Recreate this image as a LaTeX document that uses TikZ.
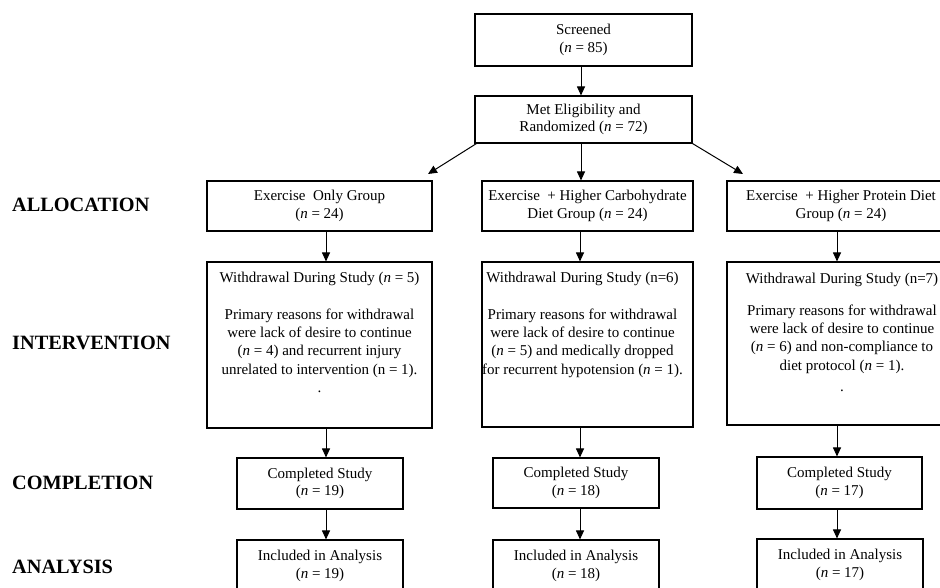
\documentclass[tikz,border=0pt]{standalone}
\usepackage{fontspec}
\setmainfont{Liberation Serif}
\usetikzlibrary{arrows.meta}
\newcommand{\smallfs}{\fontsize{15}{17.5}\selectfont}
\newcommand{\wdfs}{\fontsize{15}{18.3}\selectfont}
\newcommand{\labfs}{\fontsize{20.3}{22}\selectfont\bfseries}
\begin{document}
\begin{tikzpicture}[x=1pt,y=-1pt,
  box/.style={draw=black, line width=1.1pt, inner sep=0pt, align=center, font=\smallfs},
  wtext/.style={inner sep=0pt, align=center, font=\wdfs, anchor=north},
  lab/.style={inner sep=0pt, anchor=west, font=\labfs},
  arr/.style={line width=1pt, -{Triangle[length=9pt,width=8pt]}}]
\useasboundingbox (0,0) rectangle (940,587);
\clip (0,0) rectangle (940,587);
\fill[white] (0,0) rectangle (940,587);

% top boxes
\node[box, minimum width=217pt, minimum height=52pt] (scr) at (583.5,40) {Screened\\(\textit{n} = 85)};
\node[box, minimum width=217pt, minimum height=47pt] (rand) at (583.5,119.5) {Met Eligibility and\\Randomized (\textit{n} = 72)};

% allocation
\node[box, minimum width=225pt, minimum height=50pt] (a1) at (319.5,206) {Exercise\ \ Only Group\\(\textit{n} = 24)};
\node[box, minimum width=211pt, minimum height=50pt] (a2) at (587.5,206) {Exercise\ \ + Higher Carbohydrate\\Diet Group (\textit{n} = 24)};
\node[box, minimum width=228pt, minimum height=50pt] (a3) at (841,206) {Exercise\ \ + Higher Protein Diet\\Group (\textit{n} = 24)};

% withdrawal boxes
\node[box, minimum width=225pt, minimum height=166pt] (w1) at (319.5,345) {};
\node[box, minimum width=211pt, minimum height=165pt] (w2) at (587.5,344.5) {};
\node[box, minimum width=228pt, minimum height=163pt] (w3) at (841,343.5) {};

\node[wtext] (t1) at ([yshift=-10.5pt]w1.north) {Withdrawal During Study (\textit{n} = 5)\\[18.3pt]
Primary reasons for withdrawal\\
were lack of desire to continue\\
(\textit{n} = 4) and recurrent injury\\
unrelated to intervention (n = 1).\\
.};
\node[wtext] (t2) at ([yshift=-10.5pt,xshift=-5pt]w2.north) {Withdrawal During Study (n=6)\\[18.3pt]
Primary reasons for withdrawal\\
were lack of desire to continue\\
(\textit{n} = 5) and medically dropped\\
for recurrent hypotension (\textit{n} = 1).};
\node[wtext] (t3) at ([yshift=-11pt,xshift=1pt]w3.north) {Withdrawal During Study (n=7)\\[14pt]
Primary reasons for withdrawal\\
were lack of desire to continue\\
(\textit{n} = 6) and non-compliance to\\
diet protocol (\textit{n} = 1).\\[3pt]
.};

% completion
\node[box, minimum width=166pt, minimum height=51pt] (c1) at (320,483.5) {Completed Study\\(\textit{n} = 19)};
\node[box, minimum width=166pt, minimum height=50pt] (c2) at (576,483) {Completed Study\\(\textit{n} = 18)};
\node[box, minimum width=165pt, minimum height=52pt] (c3) at (839.5,483) {Completed Study\\(\textit{n} = 17)};

% analysis
\node[box, minimum width=166pt, minimum height=52pt] (n1) at (320,566) {Included in Analysis\\(\textit{n} = 19)};
\node[box, minimum width=166pt, minimum height=52pt] (n2) at (576,566) {Included in Analysis\\(\textit{n} = 18)};
\node[box, minimum width=166pt, minimum height=52pt] (n3) at (840,565) {Included in Analysis\\(\textit{n} = 17)};

% stage labels
\node[lab] (lalloc) at (12,205) {ALLOCATION};
\node[lab] (linter) at (12,343) {INTERVENTION};
\node[lab] (lcomp) at (12,483) {COMPLETION};
\node[lab] (lanal) at (12,567) {ANALYSIS};

% connectors
\coordinate (xm) at (581,0);
\coordinate (x1) at (326,0);
\coordinate (x2) at (580,0);
\coordinate (x3) at (837,0);
\coordinate (la) at (428,174);
\coordinate (ra) at (743,174);

\draw[arr] (scr.south -| xm) -- (rand.north -| xm);
\draw[arr] (rand.south -| xm) -- (a2.north -| xm);
\draw[arr] ([xshift=2pt]rand.south west) -- (la);
\draw[arr] (rand.south east) -- (ra);

\draw[arr] (a1.south -| x1) -- (w1.north -| x1);
\draw[arr] (a2.south -| x2) -- (w2.north -| x2);
\draw[arr] (a3.south -| x3) -- (w3.north -| x3);

\draw[arr] (w1.south -| x1) -- (c1.north -| x1);
\draw[arr] (w2.south -| x2) -- (c2.north -| x2);
\draw[arr] (w3.south -| x3) -- (c3.north -| x3);

\draw[arr] (c1.south -| x1) -- (n1.north -| x1);
\draw[arr] (c2.south -| x2) -- (n2.north -| x2);
\draw[arr] (c3.south -| x3) -- (n3.north -| x3);
\end{tikzpicture}
\end{document}
